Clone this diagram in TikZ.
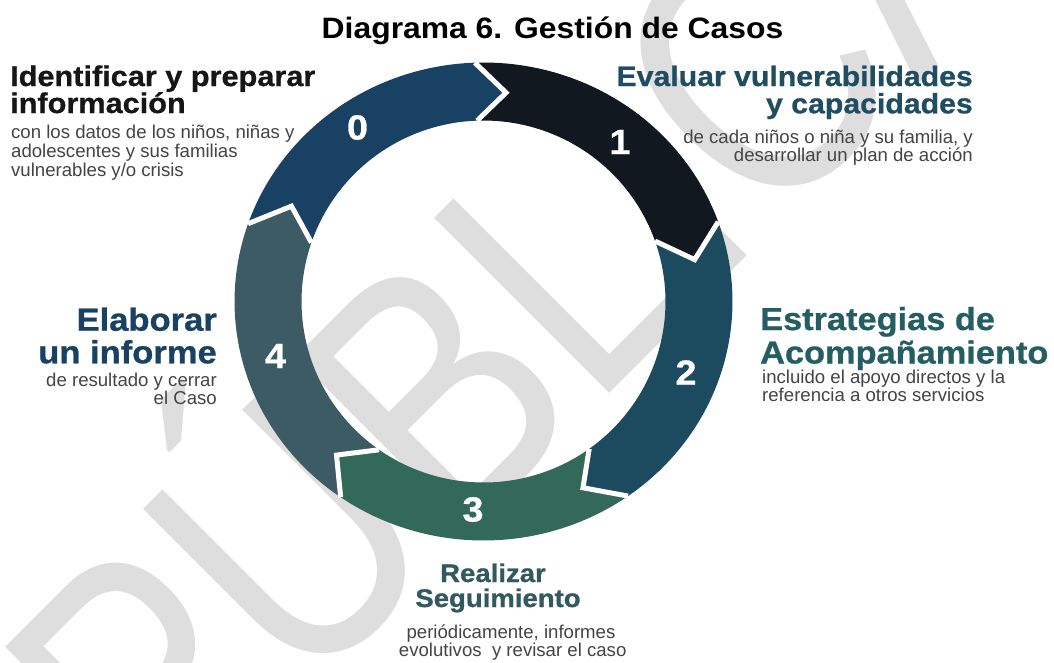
\documentclass[tikz,border=0pt]{standalone}
\usepackage{fontspec}
\setmainfont{Liberation Sans}
\newfontfamily\hfont[FakeStretch=1.08, BoldFeatures={FakeBold=0.8}]{Liberation Sans}
\newfontfamily\tfont[FakeStretch=1.08]{Liberation Sans}
\newfontfamily\wmfont[FakeStretch=0.82]{Liberation Sans}
\definecolor{segA}{HTML}{184164}
\definecolor{segB}{HTML}{111820}
\definecolor{segC}{HTML}{1C4A5E}
\definecolor{segD}{HTML}{336959}
\definecolor{segE}{HTML}{3C5B64}
\definecolor{hA}{HTML}{161616}
\definecolor{hB}{HTML}{1F4E63}
\definecolor{hC}{HTML}{255E62}
\definecolor{hD}{HTML}{325860}
\definecolor{hE}{HTML}{184164}
\definecolor{desccol}{HTML}{444444}
\definecolor{wm}{HTML}{DEDEDE}
\newcommand\ringseg[3]{%
  \fill[#1] ({249*cos(#2)},{239*sin(#2)}) -- ({215.5*cos(#2-8)},{210*sin(#2-8)})
    -- ({182*cos(#2)},{181*sin(#2)})
    -- plot[domain=#2:#3,samples=40] ({182*cos(\x)},{181*sin(\x)})
    -- ({215.5*cos(#3-8)},{210*sin(#3-8)}) -- ({249*cos(#3)},{239*sin(#3)})
    -- plot[domain=#3:#2,samples=40] ({249*cos(\x)},{239*sin(\x)}) -- cycle;}
\newcommand\ringsep[1]{%
  \draw[white, line width=5pt, line join=miter] ({249*cos(#1)},{239*sin(#1)})
    -- ({215.5*cos(#1-8)},{210*sin(#1-8)}) -- ({182*cos(#1)},{181*sin(#1)});}
\begin{document}
\begin{tikzpicture}[x=1pt,y=-1pt,
  desc/.style={inner sep=0, text=desccol, font=\fontsize{18.6}{18.6}\selectfont},
  head/.style={inner sep=0, font=\hfont\bfseries\fontsize{#1}{#1}\selectfont},
  num/.style={inner sep=0, text=white, font=\hfont\bfseries\fontsize{35}{35}\selectfont}]
\useasboundingbox (0,0) rectangle (1054,662);
\clip (0,0) rectangle (1054,662);
\fill[white] (0,0) rectangle (1054,662);
% watermark
\node[rotate=45, anchor=base west, inner sep=0, text=wm,
  font=\wmfont\fontsize{360}{360}\selectfont] (wmk) at (163.5,839.5) {PÚBLICA};
% ring
\begin{scope}[shift={(483.5,301.5)}, yscale=-1]
  \ringseg{segA}{161}{92}
  \ringseg{segB}{92}{19.5}
  \ringseg{segC}{19.5}{-54.5}
  \ringseg{segD}{-54.5}{-125}
  \ringseg{segE}{-125}{-199}
  \ringsep{161}
  \ringsep{92}
  \ringsep{19.5}
  \ringsep{-54.5}
  \ringsep{-125}
\end{scope}
% numbers
\node[num] (n0) at (357.5,127.5) {0};
\node[num] (n1) at (620,142) {1};
\node[num] (n2) at (686,372.5) {2};
\node[num] (n3) at (473,509.5) {3};
\node[num] (n4) at (275.5,356) {4};
% title
\node[inner sep=0, text=black, anchor=base, font=\tfont\bfseries\fontsize{29.5}{29.5}\selectfont] (title) at (552.5,38.5) {Diagrama 6. Gestión de Casos};
% block 0
\node[head=28.4, text=hA, anchor=base west] (h0a) at (10,86) {Identificar y preparar};
\node[head=28.4, text=hA, anchor=base west] (h0b) at (10,113) {información};
\node[desc, anchor=base west] (d0a) at (11,138.3) {con los datos de los niños, niñas y};
\node[desc, anchor=base west] (d0b) at (11,157.3) {adolescentes y sus familias};
\node[desc, anchor=base west] (d0c) at (11,176.3) {vulnerables y/o crisis};
% block 1
\node[head=28, text=hB, anchor=base east] (h1a) at (973,86) {Evaluar vulnerabilidades};
\node[head=28, text=hB, anchor=base east] (h1b) at (973,113.3) {y capacidades};
\node[desc, anchor=base east] (d1a) at (973,143) {de cada niños o niña y su familia, y};
\node[desc, anchor=base east] (d1b) at (973,161.7) {desarrollar un plan de acción};
% block 2
\node[head=31.8, text=hC, anchor=base west] (h2a) at (760,330) {Estrategias de};
\node[head=31.8, text=hC, anchor=base west] (h2b) at (760,363.5) {Acompañamiento};
\node[desc, anchor=base west] (d2a) at (762,383.3) {incluido el apoyo directos y la};
\node[desc, anchor=base west] (d2b) at (762,401.7) {referencia a otros servicios};
% block 3
\node[head=25.5, text=hD, anchor=base] (h3a) at (493,582) {Realizar};
\node[head=25.5, text=hD, anchor=base] (h3b) at (498,607) {Seguimiento};
\node[desc, anchor=base] (d3a) at (511,638.3) {periódicamente, informes};
\node[desc, anchor=base] (d3b) at (512.7,656.7) {evolutivos\ \ y revisar el caso};
% block 4
\node[head=32, text=hE, anchor=base east] (h4a) at (217,330.7) {Elaborar};
\node[head=32, text=hE, anchor=base east] (h4b) at (217,363.3) {un informe};
\node[desc, anchor=base east] (d4a) at (217,386) {de resultado y cerrar};
\node[desc, anchor=base east] (d4b) at (217,404) {el Caso};
\end{tikzpicture}
\end{document}
